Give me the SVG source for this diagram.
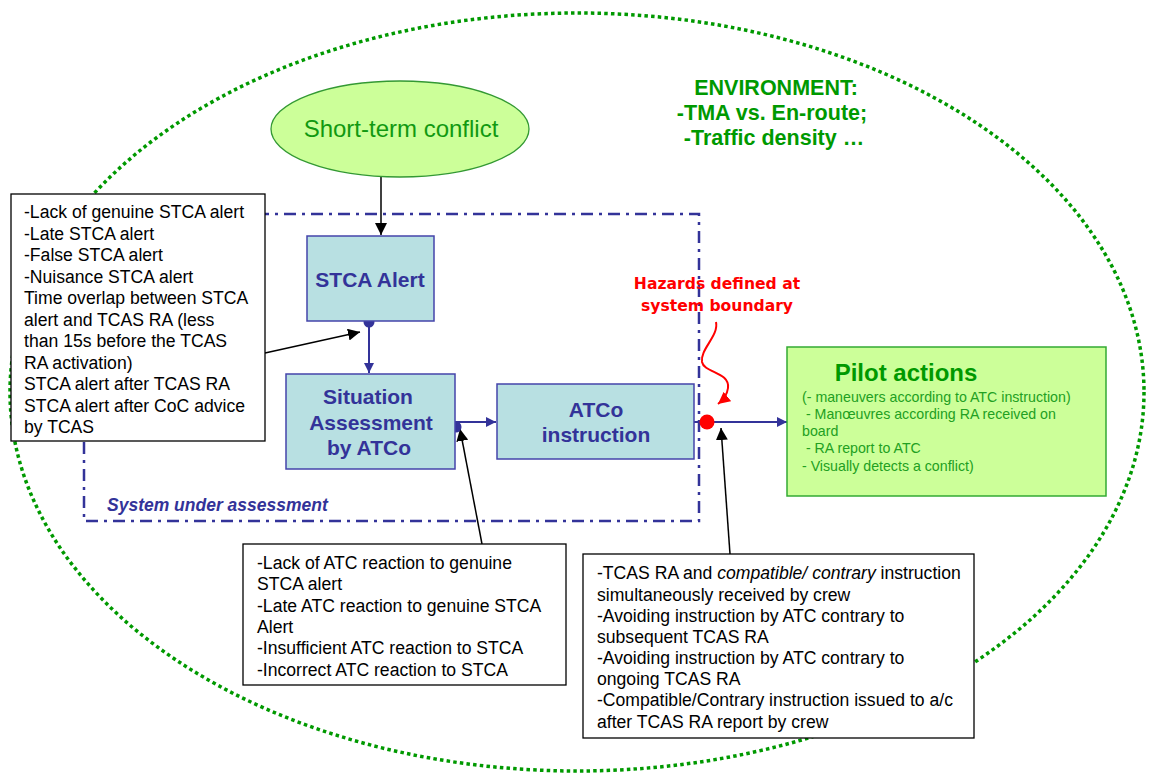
<svg xmlns="http://www.w3.org/2000/svg" width="1151" height="773" viewBox="0 0 1151 773">
<style>
.env{fill:none;stroke:#009900;stroke-width:3.5;stroke-dasharray:3.5 3.2}
.sys{fill:none;stroke:#333399;stroke-width:2.5;stroke-dasharray:12 6 3 6}
.tbox{fill:#ffffff;stroke:#000000;stroke-width:1.3}
.proc{fill:#b8e0e2;stroke:#4444aa;stroke-width:1.5}
.ptxt{font-family:"Liberation Sans",Arial,sans-serif;font-weight:bold;font-size:21px;fill:#333399;text-anchor:middle}
.btxt{font-family:"Liberation Sans",Arial,sans-serif;font-size:17.6px;fill:#000000}
.gtxt{font-family:"Liberation Sans",Arial,sans-serif;font-size:14.2px;fill:#22a022}
.blue{stroke:#333399;stroke-width:2;fill:none}
.black{stroke:#000000;stroke-width:1.5;fill:none}
.haz{font-family:"Comic Sans MS","DejaVu Sans",sans-serif;font-weight:bold;font-size:15.6px;fill:#ff0000;text-anchor:middle}
</style>
<defs>
<marker id="ab" viewBox="0 0 10 10" refX="10" refY="5" markerWidth="10" markerHeight="10" markerUnits="userSpaceOnUse" orient="auto"><path d="M0,0 L10,5 L0,10 z" fill="#333399"/></marker>
<marker id="ak" viewBox="0 0 10 10" refX="10" refY="5" markerWidth="12" markerHeight="12" markerUnits="userSpaceOnUse" orient="auto"><path d="M0,0 L10,5 L0,10 z" fill="#000000"/></marker>
<marker id="ar" viewBox="0 0 10 10" refX="10" refY="5" markerWidth="12" markerHeight="12" markerUnits="userSpaceOnUse" orient="auto"><path d="M0,0 L10,5 L0,10 z" fill="#ff0000"/></marker>
</defs>
<rect width="1151" height="773" fill="#ffffff"/>
<g id="environment">
<ellipse class="env" cx="577" cy="392" rx="567" ry="379"/>
<text font-family="Liberation Sans,Arial,sans-serif" font-weight="bold" font-size="21.5" fill="#009900" text-anchor="middle"><tspan x="776" y="95">ENVIRONMENT:</tspan><tspan x="772" y="120">-TMA vs. En-route;</tspan><tspan x="774" y="145">-Traffic density …</tspan></text>
</g>
<g id="system-boundary">
<polyline class="sys" points="84,280 84,521 699,521 699,214 84,214"/>
<text x="107" y="511" font-family="Liberation Sans,Arial,sans-serif" font-weight="bold" font-style="italic" font-size="17.5" fill="#333399">System under assessment</text>
</g>
<g id="connectors">
<line class="black" x1="381" y1="177" x2="381" y2="235" marker-end="url(#ak)"/>
<line class="blue" x1="369" y1="322" x2="369" y2="373" marker-end="url(#ab)"/>
<line class="blue" x1="455" y1="422" x2="496" y2="422" marker-end="url(#ab)"/>
<line class="blue" x1="694" y1="422" x2="787" y2="422" marker-end="url(#ab)"/>
<line class="black" x1="265" y1="353" x2="360" y2="332" marker-end="url(#ak)"/>
<line class="black" x1="482" y1="544" x2="460" y2="429" marker-end="url(#ak)"/>
<line class="black" x1="730" y1="554" x2="721" y2="428" marker-end="url(#ak)"/>
<path d="M716,322 C719,336 700,349 702,362 C704,373 730,372 728,388 C727,396 723,400 718,404" fill="none" stroke="#ff0000" stroke-width="2" marker-end="url(#ar)"/>
<circle cx="369" cy="322" r="5.5" fill="#333399"/>
<circle cx="456" cy="427" r="5.5" fill="#333399"/>
<circle cx="707" cy="422" r="7.5" fill="#ff0000"/>
</g>
<g id="hazards-label">
<text class="haz"><tspan x="717" y="289">Hazards defined at</tspan><tspan x="717" y="311">system boundary</tspan></text>
</g>
<g id="short-term-conflict">
<ellipse cx="400" cy="129" rx="129" ry="48" fill="#ccff99" stroke="#339933" stroke-width="1.3"/>
<text x="401" y="137" font-family="Liberation Sans,Arial,sans-serif" font-size="24" fill="#119911" text-anchor="middle">Short-term conflict</text>
</g>
<g id="stca-alert">
<rect class="proc" x="307" y="236" width="127" height="85"/>
<text class="ptxt" x="370" y="287">STCA Alert</text>
</g>
<g id="situation-assessment">
<rect class="proc" x="286" y="374" width="169" height="95"/>
<text class="ptxt"><tspan x="368" y="404">Situation</tspan><tspan x="371" y="430">Assessment</tspan><tspan x="369" y="455">by ATCo</tspan></text>
</g>
<g id="atco-instruction">
<rect class="proc" x="497" y="384" width="197" height="75"/>
<text class="ptxt"><tspan x="596" y="417">ATCo</tspan><tspan x="596" y="442">instruction</tspan></text>
</g>
<g id="pilot-actions">
<rect x="787" y="347" width="319" height="149" fill="#ccff99" stroke="#33aa33" stroke-width="1.5"/>
<text x="906" y="381" font-family="Liberation Sans,Arial,sans-serif" font-weight="bold" font-size="24" fill="#009900" text-anchor="middle">Pilot actions</text>
<text class="gtxt"><tspan x="802" y="402">(- maneuvers according to ATC instruction)</tspan><tspan x="802" y="419"> - Manœuvres according RA received on</tspan><tspan x="802" y="436">board</tspan><tspan x="802" y="453"> - RA report to ATC</tspan><tspan x="802" y="471">- Visually detects a conflict)</tspan></text>
</g>
<g id="stca-hazards">
<rect class="tbox" x="11" y="194" width="254" height="247"/>
<text class="btxt"><tspan x="24" y="218">-Lack of genuine STCA alert</tspan><tspan x="24" y="239.5">-Late STCA alert</tspan><tspan x="24" y="261">-False STCA alert</tspan><tspan x="24" y="282.5">-Nuisance STCA alert</tspan><tspan x="24" y="304">Time overlap between STCA</tspan><tspan x="24" y="325.5">alert and TCAS RA (less</tspan><tspan x="24" y="347">than 15s before the TCAS</tspan><tspan x="24" y="368.5">RA activation)</tspan><tspan x="24" y="390">STCA alert after TCAS RA</tspan><tspan x="24" y="411.5">STCA alert after CoC advice</tspan><tspan x="24" y="433">by TCAS</tspan></text>
</g>
<g id="atc-reaction-hazards">
<rect class="tbox" x="243" y="544" width="323" height="141"/>
<text class="btxt"><tspan x="257" y="569">-Lack of ATC reaction to genuine</tspan><tspan x="257" y="590">STCA alert</tspan><tspan x="257" y="611.5">-Late ATC reaction to genuine STCA</tspan><tspan x="257" y="633">Alert</tspan><tspan x="257" y="654">-Insufficient ATC reaction to STCA</tspan><tspan x="257" y="675.5">-Incorrect ATC reaction to STCA</tspan></text>
</g>
<g id="instruction-hazards">
<rect class="tbox" x="583" y="554" width="391" height="184"/>
<text class="btxt"><tspan x="597" y="579">-TCAS RA and <tspan font-style="italic">compatible/ contrary</tspan> instruction</tspan><tspan x="597" y="600.5">simultaneously received by crew</tspan><tspan x="597" y="622">-Avoiding instruction by ATC contrary to</tspan><tspan x="597" y="643">subsequent TCAS RA</tspan><tspan x="597" y="664">-Avoiding instruction by ATC contrary to</tspan><tspan x="597" y="685">ongoing TCAS RA</tspan><tspan x="597" y="706">-Compatible/Contrary instruction issued to a/c</tspan><tspan x="597" y="727.5">after TCAS RA report by crew</tspan></text>
</g>
</svg>
